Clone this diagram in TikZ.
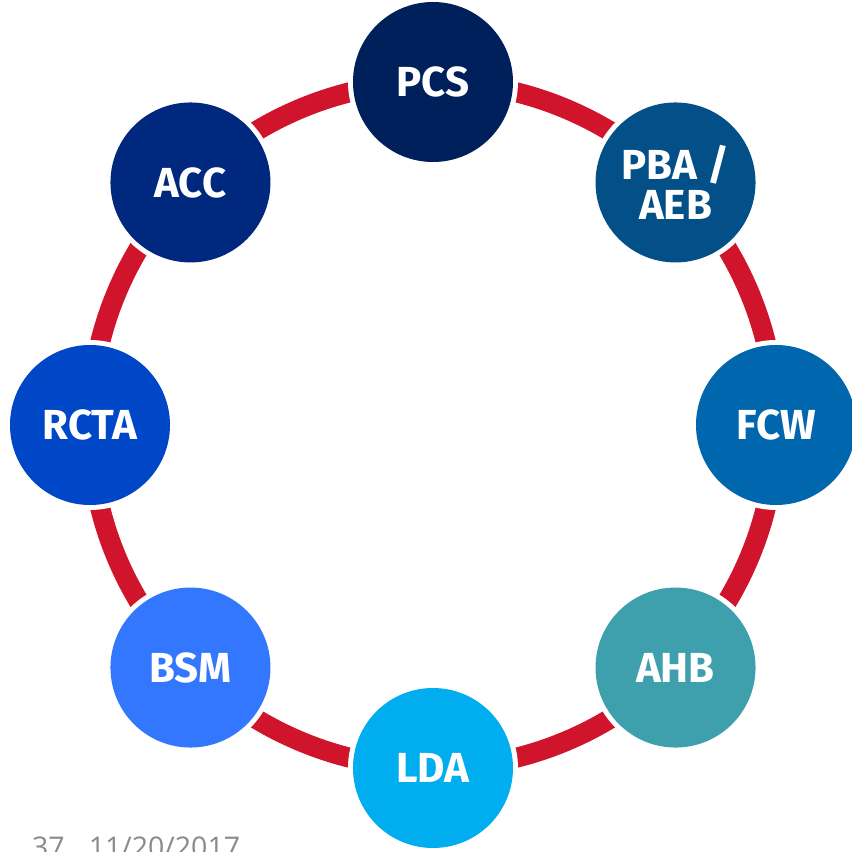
\documentclass[tikz,border=0pt]{standalone}
\usepackage{fontspec}
\setmainfont{Fira Sans}
\newfontfamily\datefont{Open Sans}
\usetikzlibrary{backgrounds}
\definecolor{ringred}{HTML}{D0142C}
\definecolor{cPCS}{HTML}{00205B}
\definecolor{cPBA}{HTML}{034F87}
\definecolor{cFCW}{HTML}{0066AE}
\definecolor{cAHB}{HTML}{3E9FAD}
\definecolor{cLDA}{HTML}{00AEEF}
\definecolor{cBSM}{HTML}{3377FF}
\definecolor{cRCTA}{HTML}{0047C8}
\definecolor{cACC}{HTML}{00287E}
\definecolor{dategray}{HTML}{8A8A8A}
\tikzset{
  bubble/.style={circle, minimum size=160pt, inner sep=0pt, fill=#1,
    preaction={draw=white, line width=10pt},
    text=white, align=center,
    font=\bfseries\fontsize{42}{40}\selectfont},
  ringarc/.style={draw=ringred, line width=20pt}
}
\begin{document}
\begin{tikzpicture}[x=1pt,y=1pt]
\useasboundingbox (-433,-427) rectangle (419,425);
\node[bubble=cPCS]  (pcs)  at (90:343)   {PCS};
\node[bubble=cPBA]  (pba)  at (45:343)   {PBA /\\AEB};
\node[bubble=cFCW]  (fcw)  at (0:343)    {FCW};
\node[bubble=cAHB]  (ahb)  at (-45:343)  {AHB};
\node[bubble=cLDA]  (lda)  at (-90:343)  {LDA};
\node[bubble=cBSM]  (bsm)  at (-135:343) {BSM};
\node[bubble=cRCTA] (rcta) at (180:343)  {RCTA};
\node[bubble=cACC]  (acc)  at (135:343)  {ACC};
\begin{scope}[on background layer]
\draw[ringarc] (pcs.center)  arc[start angle=90,  end angle=45,   radius=343];
\draw[ringarc] (pba.center)  arc[start angle=45,  end angle=0,    radius=343];
\draw[ringarc] (fcw.center)  arc[start angle=0,   end angle=-45,  radius=343];
\draw[ringarc] (ahb.center)  arc[start angle=-45, end angle=-90,  radius=343];
\draw[ringarc] (lda.center)  arc[start angle=-90, end angle=-135, radius=343];
\draw[ringarc] (bsm.center)  arc[start angle=-135,end angle=-180, radius=343];
\draw[ringarc] (rcta.center) arc[start angle=180, end angle=135,  radius=343];
\draw[ringarc] (acc.center)  arc[start angle=135, end angle=90,   radius=343];
\end{scope}
\node[anchor=base west, inner sep=0pt, text=dategray,
  font=\datefont\fontsize{28.5}{30}\selectfont] (date) at (-401,-432)
  {37\hspace{24pt}11/20/2017};
\end{tikzpicture}
\end{document}
